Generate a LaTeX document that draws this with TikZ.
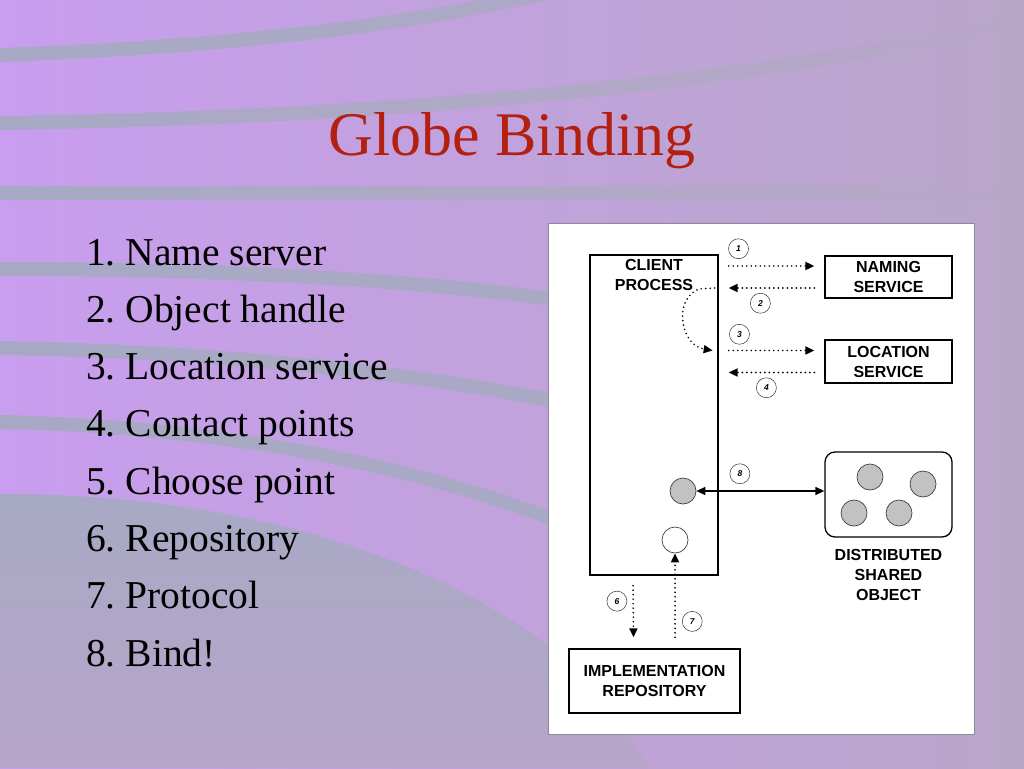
\documentclass[tikz,border=0pt]{standalone}
\usepackage{fontspec}
\setmainfont{Liberation Serif}
\setsansfont{Liberation Sans}
\usetikzlibrary{calc,arrows.meta,positioning}
\definecolor{bgleft}{HTML}{C99DEF}
\definecolor{bgright}{HTML}{B9A7C9}
\definecolor{bgbottom}{HTML}{B7A5CA}
\definecolor{band}{HTML}{A7A9C4}
\definecolor{titlered}{HTML}{B32010}
\definecolor{ballgray}{HTML}{C2C2C2}
\definecolor{panelline}{HTML}{8A8A9A}
\newcommand\diagfont{\sffamily\bfseries\fontsize{16}{20}\selectfont}
\newcommand\numfont{\sffamily\bfseries\itshape\fontsize{8.5}{9}\selectfont}
\tikzset{
  box/.style={draw,line width=1.3pt,inner sep=0pt,align=center,font=\diagfont},
  tag/.style={inner sep=0pt,align=center,font=\diagfont},
  num/.style={circle,draw=black!80,solid,line width=0.5pt,minimum size=20pt,inner sep=0pt,font=\numfont},
  ball/.style={circle,draw=black!75,line width=0.7pt,minimum size=26pt,inner sep=0pt},
  flow/.style={line width=1.8pt,line cap=round,dash pattern=on 0pt off 4.5pt,
    -{Triangle[length=9pt,width=8pt]}},
  bind/.style={line width=1.3pt,{Triangle[length=9pt,width=8pt]}-{Triangle[length=9pt,width=8pt]}},
  listitem/.style={anchor=base west,inner sep=0pt,font=\fontsize{39.5}{39.5}\selectfont}
}

\begin{document}
\begin{tikzpicture}[x=1pt,y=-1pt]
  \useasboundingbox (0,0) rectangle (1024,768);

  % slide background
  \shade[left color=bgleft,right color=bgright] (0,0) rectangle (1024,768);
  \foreach \ya/\yb/\yc/\yd/\xe/\r in {55/48/30/-10/560/70, 123/118/90/20/1024/0,
      193/193/193/193/1024/0, 269/269/277/300/560/80, 348/351/369/402/560/80,
      422/426/457/522/560/80}
    \shade[left color=band,right color=band!\r!bgright]
      (0,\ya-7) .. controls (0.35*\xe,\yb-7) and (0.7*\xe,\yc-7) .. (\xe,\yd-7)
      -- (\xe,\yd+7) .. controls (0.7*\xe,\yc+7) and (0.35*\xe,\yb+7) .. (0,\ya+7) -- cycle;
  \shade[top color=band,bottom color=bgbottom]
    (0,494) .. controls (250,494) and (440,560) .. (560,655)
    .. controls (600,695) .. (650,768) -- (0,768) -- cycle;

  % title and list
  \node[anchor=base,inner sep=0pt,text=titlered,font=\fontsize{62}{62}\selectfont]
    (title) at (512,155) {Globe Binding};
  \foreach \txt [count=\i] in {Name server,Object handle,Location service,
      Contact points,Choose point,Repository,Protocol,Bind!}
    \node[listitem] (item\i) at (86,{265+57.3*(\i-1)}) {\i.\ \txt};

  % figure panel
  \draw[panelline,line width=1pt,fill=white] (548,223) rectangle (974,734);

  % boxes
  \node[box,minimum width=128pt,minimum height=320pt] (client) at (654,415) {};
  \node[tag,below=5pt of client.north] (clienttxt) {CLIENT\\PROCESS};
  \node[box,minimum width=127pt,minimum height=42pt] (naming) at (888.5,277) {NAMING\\SERVICE};
  \node[box,minimum width=127pt,minimum height=43pt] (location) at (888.5,361.5) {LOCATION\\SERVICE};
  \node[box,rounded corners=10pt,minimum width=127pt,minimum height=85pt] (dso) at (888.5,494.5) {};
  \node[tag,below=11pt of dso] (dsotxt) {DISTRIBUTED\\SHARED\\OBJECT};
  \node[box,minimum width=171pt,minimum height=64pt] (impl) at (654.5,681) {IMPLEMENTATION\\REPOSITORY};

  % replicas and local objects
  \foreach \x/\y [count=\k] in {870/477,923/484,854/513,899/513}
    \node[ball,fill=ballgray] (replica\k) at (\x,\y) {};
  \node[ball,fill=ballgray] (stub) at (683,491) {};
  \node[ball,fill=white] (port) at (675,540) {};

  % lookups
  \draw[flow] ($(client.east |- naming.west)+(10,-11)$) -- ($(naming.west)+(-10,-11)$)
    node[num,pos=0.115,above=7pt] (n1) {1};
  \draw[flow] ($(naming.west)+(-10,11)$) -- ($(client.east |- naming.west)+(10,11)$)
    node[num,pos=0.63,below=5pt] (n2) {2};
  \draw[flow] ($(client.east |- location.west)+(10,-11)$) -- ($(location.west)+(-10,-11)$)
    node[num,pos=0.126,above=6pt] (n3) {3};
  \draw[flow] ($(location.west)+(-10,11)$) -- ($(client.east |- location.west)+(10,11)$)
    node[num,pos=0.56,below=5pt] (n4) {4};
  \coordinate (bend) at ($(client.east |- naming.west)+(-4,11)$);
  \draw[flow] (bend) -- ++(-16,1) .. controls +(-26,11) and +(-32,-5)
    .. ($(client.east |- location.west)+(-6,-11)$);

  % repository and binding
  \draw[flow] ($(client.south)+(-21,10)$) -- ($(impl.north)+(-21,-11)$)
    node[num,pos=0.3,left=6pt] (n6) {6};
  \draw[flow] ($(impl.north -| port.south)+(0,-11)$) -- (port.south)
    node[num,pos=0.19,right=7pt] (n7) {7};
  \draw[bind] (stub.east) -- (stub.east -| dso.west)
    node[num,pos=0.34,above=7pt] (n8) {8};
\end{tikzpicture}
\end{document}
